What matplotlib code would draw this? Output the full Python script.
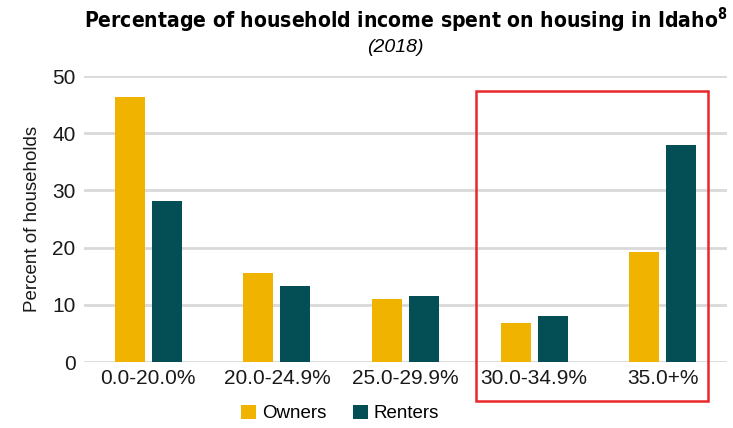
import numpy as np
import matplotlib.pyplot as plt
from matplotlib.patches import Rectangle

categories = ['0.0-20.0%', '20.0-24.9%', '25.0-29.9%', '30.0-34.9%', '35.0+%']
owners = [46.3, 15.6, 11.0, 6.8, 19.3]
renters = [28.1, 13.3, 11.5, 8.1, 38.0]

plt.rcParams['font.family'] = ['Liberation Sans', 'DejaVu Sans']
plt.rcParams['mathtext.default'] = 'regular'

fig = plt.figure(figsize=(7.33, 4.28), dpi=100)
ax = fig.add_axes([84 / 733, 1 - 362 / 428, (727 - 84) / 733, (362 - 76) / 428])

x = np.arange(len(categories))
w = 0.233
off = 0.144
b1 = ax.bar(x - off, owners, w, color='#F0B400', label='Owners', zorder=3)
b2 = ax.bar(x + off, renters, w, color='#034F55', label='Renters', zorder=3)

ax.set_xlim(-0.5, 4.5)
ax.set_ylim(0, 50)
ax.set_yticks(range(0, 51, 10))
ax.set_xticks(x)
ax.set_xticklabels(categories)
ax.grid(axis='y', color='#D9D9D9', linewidth=2, zorder=0)
ax.tick_params(length=0, labelsize=15, colors='#1a1a1a', pad=5)
ax.tick_params(axis='y', pad=6)
for s in ax.spines.values():
    s.set_visible(False)
ax.set_ylabel('Percent of households', fontsize=13.5, color='#1a1a1a', labelpad=8)

fig.text(0.553, 0.952, 'Percentage of household income spent on housing in Idaho$^{8}$',
         ha='center', va='center', fontsize=15.1, fontweight='bold',
         family='DejaVu Sans', fontstretch='condensed')
fig.text(0.54, 0.888, '(2018)', ha='center', va='center', fontsize=14, style='italic')

fig.legend(handles=[b1, b2], loc='center', bbox_to_anchor=(0.464, 0.034), ncol=2,
           frameon=False, fontsize=13.5, handlelength=0.8, handleheight=0.8,
           handletextpad=0.3, columnspacing=1.4)

fig.patches.append(Rectangle((476 / 733, 1 - 401 / 428), (708 - 476) / 733, (401 - 91) / 428,
                             transform=fig.transFigure, fill=False, edgecolor='#E8262B',
                             linewidth=1.8, zorder=10))

fig.savefig('out.png', dpi=100)
